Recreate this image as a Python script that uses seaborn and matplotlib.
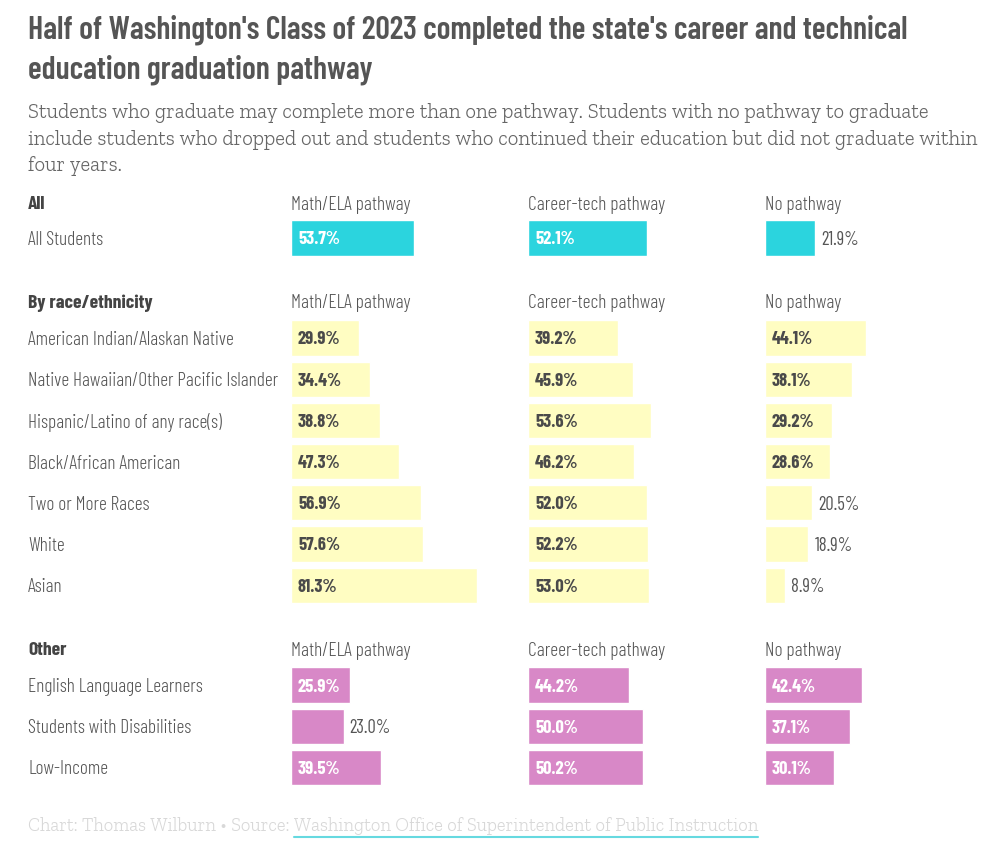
import matplotlib
matplotlib.use("Agg")
import matplotlib.pyplot as plt
import seaborn as sns
import pandas as pd

# ---------------- data ----------------
group_titles = ["All", "By race/ethnicity", "Other"]
all_rows = ["All Students"]
race_rows = ["American Indian/Alaskan Native", "Native Hawaiian/Other Pacific Islander",
             "Hispanic/Latino of any race(s)", "Black/African American",
             "Two or More Races", "White", "Asian"]
other_rows = ["English Language Learners", "Students with Disabilities", "Low-Income"]

columns = ["Math/ELA pathway", "Career-tech pathway", "No pathway"]

all_math = [53.7]
all_career = [52.1]
all_none = [21.9]

race_math = [29.9, 34.4, 38.8, 47.3, 56.9, 57.6, 81.3]
race_career = [39.2, 45.9, 53.6, 46.2, 52.0, 52.2, 53.0]
race_none = [44.1, 38.1, 29.2, 28.6, 20.5, 18.9, 8.9]

other_math = [25.9, 23.0, 39.5]
other_career = [44.2, 50.0, 50.2]
other_none = [42.4, 37.1, 30.1]

title_lines = ["Half of Washington's Class of 2023 completed the state's career and technical",
               "education graduation pathway"]
subtitle_lines = ["Students who graduate may complete more than one pathway. Students with no pathway to graduate",
                  "include students who dropped out and students who continued their education but did not graduate within",
                  "four years."]
credit = "Chart: Thomas Wilburn \u2022 Source: "
source = "Washington Office of Superintendent of Public Instruction"

# ---------------- style ----------------
sns.set_theme(style="white")
SANS = ["Barlow Condensed", "DejaVu Sans"]
SERIF = ["Zilla Slab", "DejaVu Serif"]
plt.rcParams["font.family"] = SANS

W, H = 1000, 866
fig = plt.figure(figsize=(W / 100, H / 100), dpi=100)
fig.patch.set_facecolor("white")
renderer = fig.canvas.get_renderer()


def fx(x):
    return x / W


def fy(y):
    return 1 - y / H


def fit_size(text, target_px, **kw):
    t = fig.text(0, 0, text, fontsize=20, **kw)
    w = t.get_window_extent(renderer=renderer).width
    t.remove()
    return 20 * target_px / w


TXT = "#555555"
colors = ["#2bd4de", "#fffdc2", "#d888c7"]
inside_colors = ["white", "#4a4a4a", "white"]

# title
ts = fit_size(title_lines[0], 877, family=SANS, fontweight=600)
for i, line in enumerate(title_lines):
    fig.text(fx(28), fy(30 + 40 * i), line, fontsize=ts, fontweight=600, color=TXT,
             va="center", ha="left", family=SANS)

ss = fit_size(subtitle_lines[0], 902, family=SERIF, fontweight=300)
for i, line in enumerate(subtitle_lines):
    fig.text(fx(28), fy(113 + 26.5 * i), line, fontsize=ss, fontweight=300, color="#666666",
             va="center", ha="left", family=SERIF)

label_size = fit_size("American Indian/Alaskan Native", 206, family=SANS, fontweight=300)
head_size = fit_size("Math/ELA pathway", 120, family=SANS, fontweight=300)
val_size = fit_size("53.7%", 42, family=SANS, fontweight=700)

groups = [
    (all_rows, [all_math, all_career, all_none], 203, 238),
    (race_rows, [race_math, race_career, race_none], 302, 338),
    (other_rows, [other_math, other_career, other_none], 649, 685),
]

col_left = [291, 528, 765]
PX_PER_PCT = 2.29
ROW = 41.2
AX_W = 100 * PX_PER_PCT

for gi, (rows, vals, head_y, first_y) in enumerate(groups):
    n = len(rows)
    fig.text(fx(28), fy(head_y + 1.5), group_titles[gi], fontsize=head_size, fontweight=700,
             color="#444444", va="center", ha="left")
    for ri, r in enumerate(rows):
        fig.text(fx(28), fy(first_y + ri * ROW + 2), r, fontsize=label_size, fontweight=300,
                 color=TXT, va="center", ha="left")
    top = first_y - ROW / 2
    bottom = top + n * ROW
    for ci in range(3):
        fig.text(fx(col_left[ci]), fy(head_y + 1.5), columns[ci], fontsize=head_size,
                 fontweight=300, color=TXT, va="center", ha="left")
        ax = fig.add_axes([fx(col_left[ci]), fy(bottom), AX_W / W, (bottom - top) / H])
        df = pd.DataFrame({"row": rows, "value": vals[ci]})
        sns.barplot(data=df, x="value", y="row", orient="h", color=colors[gi],
                    saturation=1, width=0.85, ax=ax)
        ax.set_xlim(0, 100)
        ax.set_ylim(n - 0.5, -0.5)
        ax.axis("off")
        for ri, v in enumerate(vals[ci]):
            lab = f"{v:.1f}%"
            if v >= 25:
                ax.annotate(lab, xy=(0, ri), xytext=(7, -2), textcoords="offset pixels",
                            va="center", ha="left", fontsize=val_size, fontweight=700,
                            color=inside_colors[gi])
            else:
                ax.annotate(lab, xy=(v, ri), xytext=(6, -2), textcoords="offset pixels",
                            va="center", ha="left", fontsize=val_size, fontweight=400,
                            color=TXT)

fs = fit_size(credit + source, 731, family=SERIF, fontweight=300)
t1 = fig.text(fx(28), fy(826), credit, fontsize=fs, fontweight=300, color="#d8d8d8",
              va="center", ha="left", family=SERIF)
bb = t1.get_window_extent(renderer=renderer)
t2 = fig.text(bb.x1 / W, fy(826), source, fontsize=fs, fontweight=300, color="#d8d8d8",
              va="center", ha="left", family=SERIF)
bb2 = t2.get_window_extent(renderer=renderer)
fig.add_artist(plt.Line2D([bb2.x0 / W, bb2.x1 / W], [fy(837), fy(837)],
                          color="#66d9e0", lw=1.5))

fig.savefig("out.png", dpi=100, facecolor="white")
